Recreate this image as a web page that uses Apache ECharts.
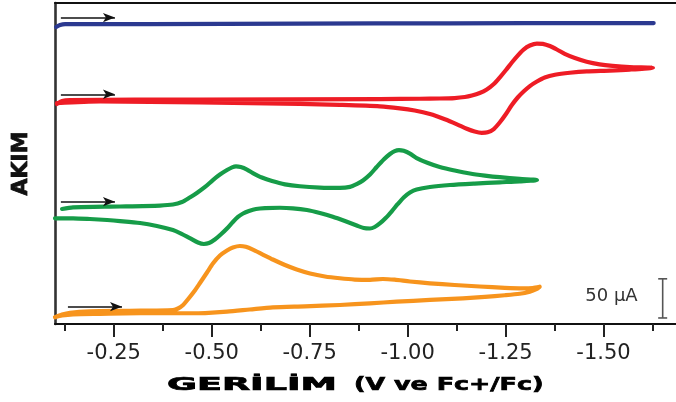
<!DOCTYPE html>
<html>
<head>
<meta charset="utf-8">
<script src="https://cdn.jsdelivr.net/npm/echarts@6/dist/echarts.min.js"></script>
<style>
  html, body { margin: 0; padding: 0; background: #fff; }
  #chart { width: 676px; height: 402px; }
</style>
</head>
<body>
<div id="chart"></div>
<script>
// Cyclic voltammograms, potential in V vs Fc+/Fc, current in µA (traces offset vertically)
const potentialTicks = [-0.25, -0.5, -0.75, -1.0, -1.25, -1.5];
const minorTicks = [-0.125, -0.375, -0.625, -0.875, -1.125, -1.375, -1.625];

const blueScan = [
  [-0.103, 379.3], [-0.113, 382.0], [-0.126, 383.1], [-0.342, 383.1],
  [-0.725, 383.6], [-1.108, 384.1], [-1.490, 384.4], [-1.628, 384.4]
];

const redScan = [
  [-0.105, 281.0], [-0.118, 284.8], [-0.138, 286.1], [-0.470, 286.7],
  [-0.929, 287.3], [-1.031, 287.7], [-1.082, 288.0], [-1.120, 288.6],
  [-1.146, 289.9], [-1.164, 291.8], [-1.184, 295.0], [-1.202, 299.5],
  [-1.220, 306.5], [-1.235, 314.8], [-1.251, 324.4], [-1.266, 334.0],
  [-1.281, 342.9], [-1.296, 350.6], [-1.312, 355.7], [-1.330, 358.2],
  [-1.345, 357.8], [-1.363, 355.0], [-1.381, 350.6], [-1.401, 345.1],
  [-1.427, 339.7], [-1.457, 335.0], [-1.490, 331.7], [-1.523, 329.8],
  [-1.567, 328.2], [-1.626, 327.3],
  [-1.567, 325.0], [-1.516, 323.7], [-1.457, 322.7], [-1.414, 320.9],
  [-1.376, 318.3], [-1.350, 314.8], [-1.330, 309.7], [-1.312, 303.9],
  [-1.296, 296.9], [-1.281, 289.3], [-1.266, 279.7], [-1.251, 268.2],
  [-1.235, 257.3], [-1.220, 249.0], [-1.204, 244.8], [-1.189, 244.2],
  [-1.171, 245.8], [-1.151, 249.3], [-1.126, 255.0], [-1.095, 261.5],
  [-1.057, 268.2], [-1.018, 272.7], [-0.980, 275.5], [-0.929, 278.0],
  [-0.827, 279.9], [-0.725, 281.2], [-0.470, 283.1], [-0.215, 284.2],
  [-0.105, 282.2]
];

const greenScan = [
  [-0.118, 146.9], [-0.146, 149.0], [-0.266, 150.1], [-0.368, 151.3],
  [-0.401, 152.6], [-0.424, 155.8], [-0.444, 161.6], [-0.462, 167.3],
  [-0.483, 175.0], [-0.503, 183.9], [-0.521, 190.9], [-0.539, 196.7],
  [-0.552, 200.1], [-0.562, 201.4], [-0.574, 200.5], [-0.590, 197.3],
  [-0.605, 192.8], [-0.628, 187.1], [-0.654, 182.6], [-0.687, 178.4],
  [-0.725, 175.9], [-0.776, 174.3], [-0.827, 173.9], [-0.853, 175.2],
  [-0.870, 178.8], [-0.886, 183.3], [-0.904, 190.9], [-0.921, 200.5],
  [-0.939, 210.1], [-0.955, 217.1], [-0.967, 220.9], [-0.978, 222.2],
  [-0.990, 221.2], [-1.006, 217.7], [-1.023, 212.0], [-1.052, 205.6],
  [-1.082, 200.5], [-1.120, 196.0], [-1.159, 192.2], [-1.197, 189.6],
  [-1.235, 187.5], [-1.286, 185.4], [-1.330, 183.9],
  [-1.286, 182.2], [-1.235, 181.0], [-1.171, 179.4], [-1.108, 177.5],
  [-1.057, 175.0], [-1.023, 171.8], [-1.006, 167.9], [-0.990, 161.6],
  [-0.975, 153.3], [-0.960, 144.3], [-0.944, 135.4], [-0.929, 128.4],
  [-0.916, 123.9], [-0.904, 122.0], [-0.888, 122.6], [-0.870, 125.8],
  [-0.840, 131.5], [-0.809, 137.0], [-0.776, 141.8], [-0.743, 145.6],
  [-0.707, 147.8], [-0.674, 148.5], [-0.636, 148.1], [-0.613, 146.9],
  [-0.595, 144.3], [-0.580, 141.1], [-0.567, 136.7], [-0.554, 130.3],
  [-0.539, 122.0], [-0.523, 114.3], [-0.508, 107.9], [-0.493, 103.4],
  [-0.480, 102.2], [-0.465, 104.1], [-0.444, 109.8], [-0.419, 116.2],
  [-0.401, 120.0], [-0.360, 125.2], [-0.317, 129.0], [-0.266, 131.5],
  [-0.233, 132.8], [-0.189, 134.1], [-0.146, 135.0], [-0.100, 135.0]
];

const orangeScan = [
  [-0.100, 8.6], [-0.118, 12.1], [-0.138, 14.4], [-0.189, 16.2],
  [-0.291, 16.9], [-0.401, 17.9], [-0.414, 19.8], [-0.427, 24.3],
  [-0.439, 31.3], [-0.455, 41.5], [-0.470, 52.4], [-0.488, 65.8],
  [-0.503, 77.3], [-0.521, 87.5], [-0.539, 93.9], [-0.554, 97.7],
  [-0.572, 99.6], [-0.587, 98.6], [-0.605, 95.1], [-0.628, 89.4],
  [-0.656, 82.4], [-0.687, 75.3], [-0.717, 69.6], [-0.751, 64.5],
  [-0.789, 60.7], [-0.827, 58.4], [-0.865, 56.8], [-0.904, 56.4],
  [-0.937, 57.5], [-0.967, 56.6], [-1.006, 54.3], [-1.057, 52.0],
  [-1.120, 49.8], [-1.184, 47.9], [-1.248, 46.2], [-1.294, 45.6],
  [-1.319, 46.0], [-1.337, 47.6],
  [-1.327, 44.1], [-1.312, 41.3], [-1.286, 38.6], [-1.248, 36.7],
  [-1.197, 34.7], [-1.141, 32.8], [-1.057, 30.7], [-0.972, 28.5],
  [-0.904, 26.4], [-0.827, 24.3], [-0.738, 22.6], [-0.656, 21.3],
  [-0.597, 18.5], [-0.539, 15.7], [-0.483, 14.0], [-0.444, 13.7],
  [-0.317, 13.7], [-0.215, 13.0], [-0.146, 12.4], [-0.118, 10.9],
  [-0.100, 8.6]
];

// scan-direction arrows: [start, end] in (V, µA)
const blueArrow = [[-0.115, 391.4], [-0.253, 391.4]];
const redArrow = [[-0.115, 293.4], [-0.253, 293.4]];
const greenArrow = [[-0.115, 156.2], [-0.253, 156.2]];
const orangeArrow = [[-0.133, 22.1], [-0.271, 22.1]];

// 50 µA scale bar: potential, lower current, upper current
const scaleBar = [-1.651, 7.7, 57.7];
const scaleLabel = '50 µA';

const xTitleMain = 'GERİLİM';
const xTitleUnit = '(V ve Fc+/Fc)';
const yTitle = 'AKIM';

const colors = { blue: '#2B3990', red: '#EE1C25', green: '#169C48', orange: '#F7941D' };

function trace(name, data, color, arrow) {
  return {
    name: name,
    type: 'line',
    data: data,
    smooth: 0.25,
    symbol: 'none',
    showSymbol: false,
    silent: true,
    z: 3,
    lineStyle: { color: color, width: 4.2, cap: 'round', join: 'round' },
    itemStyle: { color: color },
    markLine: {
      silent: true,
      symbol: ['none', 'arrow'],
      symbolSize: [7, 12],
      label: { show: false },
      lineStyle: { color: '#111', width: 1.5, type: 'solid' },
      data: [[{ coord: arrow[0] }, { coord: arrow[1] }]]
    }
  };
}

const chart = echarts.init(document.getElementById('chart'));

const axisRange = { min: -1.685, max: -0.10 };

chart.setOption({
  animation: false,
  backgroundColor: '#fff',
  grid: { left: 55, right: 0, top: 3, bottom: 78, containLabel: false, outerBoundsMode: 'none' },
  xAxis: [
    {
      type: 'value', inverse: true, min: axisRange.min, max: axisRange.max,
      position: 'bottom',
      axisLine: { show: true, lineStyle: { color: '#111', width: 2.2 } },
      axisTick: { show: true, customValues: potentialTicks, length: 13, lineStyle: { color: '#222', width: 2 } },
      axisLabel: {
        show: true, customValues: potentialTicks, margin: 19,
        formatter: function (v) { return v.toFixed(2); },
        fontFamily: 'DejaVu Sans', fontSize: 21, color: '#222'
      },
      splitLine: { show: false }
    },
    {
      type: 'value', inverse: true, min: axisRange.min, max: axisRange.max,
      position: 'bottom',
      axisLine: { show: false },
      axisTick: { show: true, customValues: minorTicks, length: 7, lineStyle: { color: '#222', width: 2 } },
      axisLabel: { show: false },
      splitLine: { show: false }
    },
    {
      type: 'value', inverse: true, min: axisRange.min, max: axisRange.max,
      position: 'top',
      axisLine: { show: true, lineStyle: { color: '#111', width: 2.2 } },
      axisTick: { show: false },
      axisLabel: { show: false },
      splitLine: { show: false }
    }
  ],
  yAxis: {
    type: 'value', min: 0, max: 410,
    name: yTitle, nameLocation: 'middle', nameGap: 23, nameRotate: 90,
    nameTextStyle: {
      fontFamily: 'DejaVu Sans', fontWeight: 'bold', fontSize: 22, color: '#111',
      textBorderColor: '#111', textBorderWidth: 0.8
    },
    axisLine: { show: true, lineStyle: { color: '#333', width: 2.6 } },
    axisTick: { show: false },
    axisLabel: { show: false },
    splitLine: { show: false }
  },
  graphic: [
    {
      type: 'text', x: 167, y: 385, scaleX: 2.03,
      style: { text: xTitleMain, font: 'bold 18px "DejaVu Sans"', fill: '#000', stroke: '#000', lineWidth: 0.7, align: 'left', verticalAlign: 'middle' }
    },
    {
      type: 'text', x: 354, y: 385, scaleX: 1.41,
      style: { text: xTitleUnit, font: 'bold 18px "DejaVu Sans"', fill: '#000', stroke: '#000', lineWidth: 0.7, align: 'left', verticalAlign: 'middle' }
    }
  ],
  series: [
    trace('blue', blueScan, colors.blue, blueArrow),
    trace('red', redScan, colors.red, redArrow),
    trace('green', greenScan, colors.green, greenArrow),
    trace('orange', orangeScan, colors.orange, orangeArrow),
    {
      name: 'scale',
      type: 'custom',
      silent: true,
      data: [scaleBar],
      encode: { x: 0, y: [1, 2] },
      renderItem: function (params, api) {
        const x = api.value(0);
        const lo = api.coord([x, api.value(1)]);
        const hi = api.coord([x, api.value(2)]);
        const c = '#555';
        const cap = 4.5;
        return {
          type: 'group',
          children: [
            { type: 'line', shape: { x1: lo[0], y1: lo[1], x2: hi[0], y2: hi[1] }, style: { stroke: c, lineWidth: 1.6 } },
            { type: 'line', shape: { x1: lo[0] - cap, y1: lo[1], x2: lo[0] + cap, y2: lo[1] }, style: { stroke: c, lineWidth: 1.6 } },
            { type: 'line', shape: { x1: hi[0] - cap, y1: hi[1], x2: hi[0] + cap, y2: hi[1] }, style: { stroke: c, lineWidth: 1.6 } },
            {
              type: 'text', x: lo[0] - 25, y: (lo[1] + hi[1]) / 2 - 2,
              style: { text: scaleLabel, font: '18px "DejaVu Sans"', fill: '#333', align: 'right', verticalAlign: 'middle' }
            }
          ]
        };
      }
    }
  ]
});
</script>
</body>
</html>
